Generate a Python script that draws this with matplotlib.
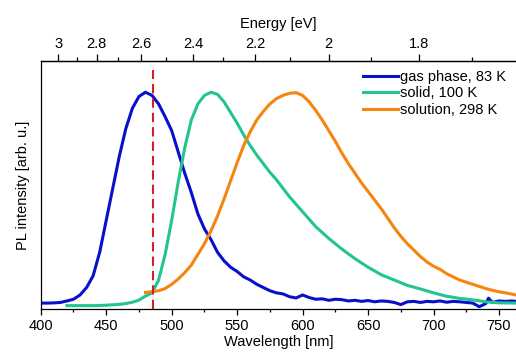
import numpy as np
import matplotlib
matplotlib.use("Agg")
import matplotlib.pyplot as plt
from matplotlib.ticker import MultipleLocator, FixedLocator, FormatStrFormatter

plt.rcParams['font.family'] = ['Liberation Sans', 'DejaVu Sans']

# ---- data (normalized PL intensity) ----
gas_wl = [400, 405, 410, 415, 420, 425, 430, 435, 440, 445, 450, 455, 460, 465, 470, 475,
          480, 485, 490, 495, 500, 505, 510, 515, 520, 525, 530, 535, 540, 545, 550, 555,
          560, 565, 570, 575, 580, 585, 590, 595, 600, 605, 610, 615, 620, 625, 630, 635,
          640, 645, 650, 655, 660, 665, 670, 675, 680, 685, 690, 695, 700, 705, 710, 715,
          720, 725, 730, 735, 740, 742, 745, 750, 755, 760, 763]
gas_int = [0.012, 0.012, 0.013, 0.015, 0.022, 0.030, 0.050, 0.085, 0.14, 0.25, 0.40, 0.55,
           0.70, 0.83, 0.925, 0.98, 1.00, 0.985, 0.945, 0.885, 0.82, 0.72, 0.62, 0.53, 0.43,
           0.36, 0.31, 0.25, 0.21, 0.18, 0.16, 0.135, 0.12, 0.10, 0.085, 0.07, 0.06, 0.055,
           0.042, 0.036, 0.05, 0.038, 0.03, 0.032, 0.025, 0.03, 0.028, 0.022, 0.025, 0.02,
           0.024, 0.018, 0.022, 0.02, 0.015, 0.005, 0.018, 0.02, 0.015, 0.02, 0.018, 0.022,
           0.016, 0.02, 0.018, 0.015, 0.012, -0.005, 0.01, 0.035, 0.015, 0.022, 0.02, 0.022, 0.02]

solid_wl = [420, 430, 440, 450, 455, 460, 465, 470, 475, 480, 485, 490, 495, 500, 505, 510,
            515, 520, 525, 530, 535, 540, 545, 550, 555, 560, 565, 570, 575, 580, 590, 600,
            610, 620, 630, 640, 650, 660, 670, 680, 690, 700, 710, 720, 730, 740, 750, 763]
solid_int = [0.0, 0.0, 0.0, 0.002, 0.004, 0.006, 0.01, 0.016, 0.026, 0.045, 0.06, 0.12,
             0.24, 0.40, 0.58, 0.74, 0.87, 0.945, 0.985, 1.0, 0.99, 0.955, 0.905, 0.855,
             0.80, 0.75, 0.705, 0.665, 0.625, 0.59, 0.51, 0.44, 0.37, 0.315, 0.265, 0.22,
             0.18, 0.145, 0.12, 0.095, 0.078, 0.06, 0.044, 0.034, 0.027, 0.018, 0.013, 0.012]

sol_wl = [480, 485, 490, 495, 500, 505, 510, 515, 520, 525, 530, 535, 540, 545, 550, 555,
          560, 565, 570, 575, 580, 585, 590, 595, 600, 605, 610, 615, 620, 625, 630, 635,
          640, 645, 650, 655, 660, 665, 670, 675, 680, 685, 690, 695, 700, 705, 710, 715,
          720, 725, 730, 735, 740, 745, 750, 755, 763]
sol_int = [0.062, 0.065, 0.07, 0.08, 0.10, 0.125, 0.155, 0.19, 0.24, 0.29, 0.35, 0.42, 0.50,
           0.585, 0.67, 0.75, 0.815, 0.87, 0.91, 0.945, 0.97, 0.985, 0.995, 0.998, 0.985,
           0.955, 0.915, 0.87, 0.82, 0.77, 0.715, 0.665, 0.62, 0.575, 0.535, 0.495, 0.455,
           0.41, 0.365, 0.325, 0.29, 0.26, 0.23, 0.205, 0.185, 0.17, 0.15, 0.135, 0.12,
           0.11, 0.10, 0.09, 0.08, 0.072, 0.065, 0.06, 0.05]

labels = ["gas phase, 83 K", "solid, 100 K", "solution, 298 K"]
marker_wl = 486
energy_major = [3, 2.8, 2.6, 2.4, 2.2, 2, 1.8]
energy_minor = [2.9, 2.7, 2.5, 2.3, 2.1, 1.9, 1.7]

# ---- figure ----
fig = plt.figure(figsize=(5.16, 3.55), dpi=100)
ax = fig.add_axes([0.079, 0.130, 0.921, 0.698])

ax.plot(gas_wl, gas_int, color="#0a0fcc", lw=2.2, label=labels[0])
ax.plot(solid_wl, solid_int, color="#22c592", lw=2.2, label=labels[1])
ax.plot(sol_wl, sol_int, color="#f5850f", lw=2.2, label=labels[2])
ax.axvline(marker_wl, ymin=0, ymax=0.964, color="#d02222", lw=1.5, dashes=(4.5, 2.4))

ax.set_xlim(400, 763)
ax.set_ylim(-0.015, 1.146)
ax.xaxis.set_major_locator(MultipleLocator(50))
ax.xaxis.set_minor_locator(MultipleLocator(25))
ax.tick_params(axis='x', which='major', direction='out', length=4, width=0.9, labelsize=10.5, pad=3)
ax.tick_params(axis='x', which='minor', direction='out', length=2.5, width=0.9)
ax.set_yticks([])
ax.spines['right'].set_visible(False)
for s in ['left', 'bottom', 'top']:
    ax.spines[s].set_linewidth(0.9)
ax.set_xlabel("Wavelength [nm]", fontsize=10.5, labelpad=2)
ax.set_ylabel("PL intensity [arb. u.]", fontsize=10.5, labelpad=8)

conv = lambda x: 1239.84 / np.asarray(x, dtype=float)
sec = ax.secondary_xaxis('top', functions=(conv, conv))
sec.xaxis.set_major_locator(FixedLocator(energy_major))
sec.xaxis.set_minor_locator(FixedLocator(energy_minor))
sec.xaxis.set_major_formatter(FormatStrFormatter('%g'))
sec.tick_params(which='major', direction='out', length=5, width=0.9, labelsize=10.5, pad=2)
sec.tick_params(which='minor', direction='out', length=3, width=0.9)
sec.spines['top'].set_linewidth(0.9)
sec.set_xlabel("Energy [eV]", fontsize=10.5, labelpad=7)

ax.legend(loc='upper right', bbox_to_anchor=(1.004, 1.01), frameon=False, fontsize=10.5,
          handlelength=2.4, handletextpad=0.15, labelspacing=0.15, borderpad=0.3)

fig.savefig("out.png", dpi=100)
